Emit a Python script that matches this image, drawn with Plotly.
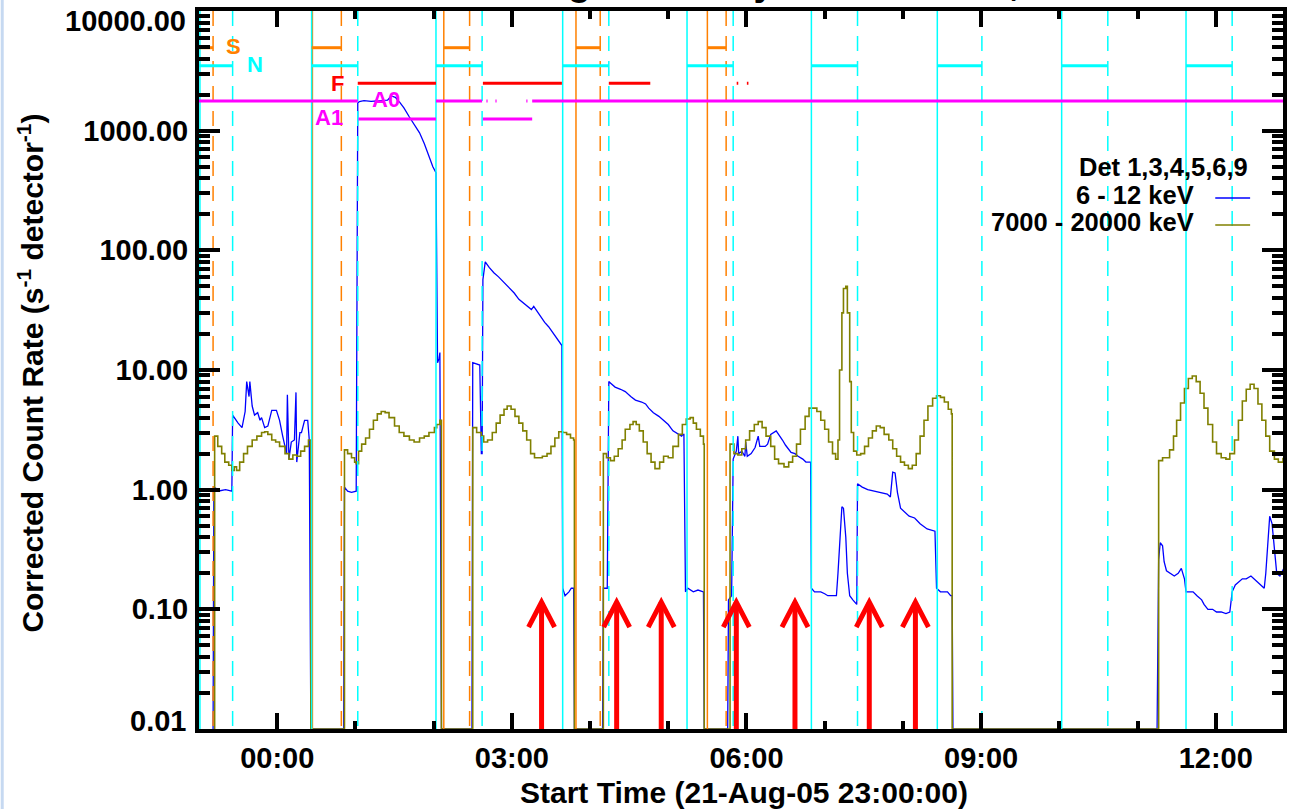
import plotly.graph_objects as go

# ------------------------------------------------------------------ data
# time axis: hours since 21-Aug-05 23:00:00
x_tick_vals = [1, 4, 7, 10, 13]
x_tick_text = ["00:00", "03:00", "06:00", "09:00", "12:00"]
y_tick_vals = [0.01, 0.1, 1, 10, 100, 1000, 10000]
y_tick_text = ["0.01", "0.10", "1.00", "10.00", "100.00", "1000.00", "10000.00"]

# 6 - 12 keV
blue_t = [0.18, 0.19, 0.27, 0.34, 0.42, 0.43, 0.50, 0.55, 0.59, 0.61, 0.64, 0.65, 0.68, 0.71, 0.75, 0.78,
          0.80, 0.84, 0.88, 0.93, 0.99, 1.03, 1.07, 1.12, 1.13, 1.15, 1.18, 1.22, 1.24, 1.25, 1.29, 1.31,
          1.35, 1.39, 1.41, 1.43,
          1.85, 1.86, 1.90, 1.95, 2.01, 2.03, 2.05, 2.11, 2.20, 2.31, 2.41, 2.46, 2.51, 2.56, 2.62, 2.69,
          2.75, 2.82, 2.88, 2.94, 2.99, 3.03, 3.05, 3.07, 3.08, 3.10,
          3.49, 3.50, 3.55, 3.59, 3.61, 3.62, 3.63, 3.66, 3.71, 3.77, 3.83, 3.90, 3.96, 4.03, 4.09, 4.15,
          4.22, 4.25, 4.28, 4.32, 4.37, 4.42, 4.47, 4.54, 4.59, 4.62, 4.64, 4.65, 4.68, 4.73, 4.76, 4.79, 4.80,
          5.16, 5.17, 5.22, 5.24, 5.26, 5.32, 5.39, 5.45, 5.52, 5.58, 5.66, 5.71, 5.75, 5.81, 5.88, 5.94,
          6.00, 6.06, 6.13, 6.17, 6.19, 6.20, 6.22, 6.25, 6.32, 6.38, 6.45, 6.46,
          6.76, 6.77, 6.81, 6.83, 6.87, 6.89, 6.90, 6.94, 6.98, 6.99, 7.01, 7.06, 7.11, 7.15, 7.17, 7.24,
          7.27, 7.31, 7.38, 7.43, 7.46, 7.50, 7.57, 7.62, 7.66, 7.72, 7.76, 7.82, 7.83, 7.87, 7.95, 8.00,
          8.04, 8.10, 8.15, 8.17, 8.20, 8.22, 8.24, 8.27, 8.29, 8.32, 8.36, 8.41, 8.42, 8.48, 8.55, 8.61,
          8.68, 8.74, 8.80, 8.84, 8.87, 8.90, 8.93, 8.97, 9.02, 9.08, 9.15, 9.22, 9.31, 9.38, 9.41, 9.43,
          9.48, 9.53, 9.57, 9.61, 9.63, 9.64,
          12.25, 12.27, 12.29, 12.32, 12.34, 12.37, 12.42, 12.47, 12.52, 12.56, 12.60, 12.62, 12.66, 12.71,
          12.76, 12.82, 12.85, 12.90, 12.96, 13.01, 13.07, 13.13, 13.18, 13.21, 13.25, 13.29, 13.34, 13.39,
          13.45, 13.53, 13.58, 13.62, 13.64, 13.67, 13.69, 13.72, 13.75, 13.78, 13.82, 13.87]
blue_v = [0.01, 1.05, 0.98, 1.0, 0.97, 4.2, 3.6, 3.3, 4.5, 8.0, 6.0, 8.0, 5.0, 4.2, 4.4, 3.8,
          4.0, 3.3, 3.4, 4.6, 4.6, 3.8, 2.8, 2.0, 6.2, 1.8, 2.5, 2.6, 6.5, 1.7, 3.0, 3.0,
          3.8, 3.8, 2.6, 0.01,
          0.01, 1.05, 0.97, 0.95, 0.97, 1700, 1750, 1780, 1760, 1770, 1800, 1950, 1900, 1750, 1550, 1300,
          1120, 960, 780, 600, 500, 445, 11.5, 12.5, 14, 0.01,
          0.01, 11.5, 11.3, 11.0, 2.0, 2.0, 57, 80, 72, 65, 60, 54, 49, 44, 39, 36,
          33, 32, 34, 31, 28, 25, 23, 20, 18, 17, 16, 0.15, 0.13, 0.14, 0.15, 0.15, 0.01,
          0.01, 0.15, 0.15, 8.0, 7.8, 7.2, 6.9, 6.6, 6.0, 5.6, 5.4, 5.2, 4.8, 4.4, 4.1, 3.8,
          3.5, 3.1, 2.9, 2.8, 2.9, 2.9, 0.14, 0.15, 0.14, 0.145, 0.14, 0.01,
          0.01, 0.12, 0.13, 1.8, 2.1, 2.8, 2.0, 2.1, 1.9, 2.5, 1.9, 2.0, 2.25, 2.8, 2.3, 2.3,
          2.4, 2.9, 3.1, 2.8, 2.6, 2.35, 2.05, 2.0, 1.9, 1.8, 1.7, 1.7, 0.15, 0.14, 0.14, 0.135,
          0.13, 0.13, 0.13, 0.2, 0.5, 0.72, 0.7, 0.4, 0.2, 0.13, 0.12, 0.11, 1.12, 1.05, 1.0, 0.98,
          0.95, 0.94, 0.92, 0.87, 1.4, 1.38, 0.95, 0.7, 0.65, 0.6, 0.58, 0.52, 0.47, 0.46, 0.45, 0.15,
          0.14, 0.14, 0.14, 0.13, 0.13, 0.01,
          0.01, 0.26, 0.36, 0.34, 0.25, 0.21, 0.20, 0.19, 0.20, 0.22, 0.18, 0.14, 0.14, 0.14,
          0.13, 0.12, 0.11, 0.10, 0.10, 0.095, 0.095, 0.092, 0.095, 0.14, 0.16, 0.17, 0.18, 0.18,
          0.19, 0.17, 0.16, 0.15, 0.2, 0.45, 0.6, 0.52, 0.3, 0.2, 0.19, 0.22]

# 7000 - 20000 keV
olive_t = [0.19, 0.20, 0.24, 0.29, 0.33, 0.38, 0.42, 0.45, 0.48, 0.52, 0.57, 0.62, 0.68, 0.74, 0.80, 0.84,
           0.88, 0.93, 0.98, 1.03, 1.10, 1.15, 1.20, 1.25, 1.30, 1.35, 1.40, 1.41, 1.43,
           1.85, 1.86, 1.90, 1.95, 1.99, 2.01, 2.04, 2.08, 2.13, 2.18, 2.23, 2.28, 2.33, 2.38, 2.43, 2.50,
           2.56, 2.62, 2.69, 2.75, 2.82, 2.88, 2.94, 3.01, 3.04, 3.08, 3.10,
           3.49, 3.50, 3.55, 3.61, 3.64, 3.69, 3.75, 3.80, 3.85, 3.90, 3.94, 3.99, 4.04, 4.09, 4.14, 4.19,
           4.24, 4.29, 4.34, 4.39, 4.45, 4.50, 4.55, 4.60, 4.65, 4.70, 4.75, 4.79, 4.80,
           5.16, 5.17, 5.21, 5.26, 5.31, 5.36, 5.41, 5.45, 5.51, 5.55, 5.59, 5.63, 5.68, 5.73, 5.78, 5.83,
           5.89, 5.94, 6.00, 6.06, 6.13, 6.18, 6.23, 6.28, 6.32, 6.36, 6.41, 6.45, 6.46,
           6.77, 6.79, 6.84, 6.89, 6.94, 6.99, 7.04, 7.10, 7.15, 7.20, 7.25, 7.31, 7.36, 7.41, 7.48, 7.54,
           7.59, 7.64, 7.69, 7.75, 7.80, 7.85, 7.90, 7.95, 8.00, 8.05, 8.10, 8.14, 8.17, 8.19, 8.22, 8.24,
           8.27, 8.29, 8.32, 8.34, 8.37, 8.41, 8.46, 8.51, 8.56, 8.61, 8.66, 8.71, 8.76, 8.82, 8.87, 8.92,
           8.97, 9.02, 9.07, 9.12, 9.17, 9.22, 9.27, 9.32, 9.38, 9.43, 9.48, 9.53, 9.58, 9.62, 9.63,
           12.25, 12.27, 12.32, 12.37, 12.41, 12.46, 12.50, 12.55, 12.60, 12.65, 12.70, 12.75, 12.80, 12.85,
           12.90, 12.96, 13.01, 13.07, 13.13, 13.18, 13.24, 13.29, 13.34, 13.39, 13.44, 13.49, 13.54, 13.59,
           13.64, 13.69, 13.75, 13.80, 13.86]
olive_v = [0.01, 2.8, 2.3, 2.0, 1.7, 1.6, 1.45, 1.55, 1.45, 1.7, 2.0, 2.3, 2.6, 2.8, 3.0, 3.05,
           2.9, 2.6, 2.5, 2.3, 2.0, 1.8, 1.95, 1.9, 2.1, 2.3, 2.6, 2.6, 0.01,
           0.01, 2.15, 2.0, 1.85, 1.7, 1.65, 2.1, 2.4, 2.7, 3.2, 3.8, 4.3, 4.5, 4.4, 4.0, 3.4,
           3.0, 2.8, 2.6, 2.5, 2.7, 2.8, 3.0, 3.3, 3.5, 3.8, 0.01,
           0.01, 3.3, 3.0, 2.8, 2.5, 2.6, 3.0, 3.6, 4.2, 4.7, 5.0, 4.7, 4.1, 3.6, 3.1, 2.6,
           2.0, 1.85, 1.85, 1.9, 2.0, 2.3, 2.7, 3.05, 3.0, 2.9, 2.7, 2.6, 0.01,
           0.01, 2.0, 1.85, 1.75, 1.9, 2.2, 2.6, 3.2, 3.5, 3.7, 3.5, 3.1, 2.5, 2.0, 1.7, 1.5,
           1.7, 1.9, 1.85, 2.3, 2.9, 3.5, 3.9, 4.0, 3.6, 3.2, 2.8, 2.4, 0.01,
           0.01, 2.4, 2.0, 1.95, 2.2, 2.6, 3.1, 3.5, 3.7, 3.3, 2.8, 2.3, 1.8, 1.65, 1.55, 1.7,
           1.9, 2.4, 3.2, 4.1, 4.8, 4.8, 4.5, 3.8, 3.2, 2.5, 2.0, 1.8, 2.6, 10, 30, 48,
           50, 30, 8, 3.0, 2.1, 1.95, 2.0, 2.3, 2.7, 3.1, 3.4, 3.3, 2.9, 2.6, 2.2, 1.9,
           1.7, 1.6, 1.5, 1.6, 2.0, 2.8, 3.8, 5.0, 5.8, 6.1, 5.9, 5.4, 4.7, 4.3, 0.01,
           0.01, 1.75, 1.85, 1.85, 2.15, 2.8, 3.8, 5.3, 7.0, 8.5, 8.9, 8.0, 6.4, 4.8,
           3.5, 2.5, 2.0, 1.85, 1.8, 2.0, 2.6, 3.8, 5.5, 6.9, 7.6, 7.0, 5.2, 3.8,
           2.8, 2.1, 1.8, 1.7, 1.85]

# orbit markers (hours)
night_start = [0.012, 1.44, 3.03, 4.65, 6.24, 7.83, 9.44, 11.03, 12.62]
night_end = [0.43, 2.03, 3.62, 5.24, 6.83, 8.42, 10.01, 11.62, 13.21]
saa_start = [1.45, 3.13, 4.82, 6.50]
saa_end = [0.18, 1.82, 3.46, 5.13, 6.74]

# flag bars: (start, end) in hours, and their plot level
saa_bars = [(0.0, 0.18), (1.44, 1.82), (3.13, 3.46), (4.82, 5.13), (6.50, 6.74)]
night_bars = [(0.0, 0.43), (1.44, 2.03), (3.03, 3.62), (4.65, 5.24), (6.24, 6.83), (7.83, 8.42),
              (9.44, 10.01), (11.03, 11.62), (12.62, 13.21)]
flare_bars = [(2.03, 3.03), (3.63, 4.64), (5.24, 5.77), (6.875, 6.895), (7.005, 7.025)]
a0_bars = [(0.0, 2.03), (3.03, 3.62), (3.675, 3.69), (3.79, 3.805), (4.185, 4.20), (4.26, 13.86)]
a1_bars = [(2.04, 3.03), (3.63, 4.26)]
saa_level, night_level, flare_level, a0_level, a1_level = 4935, 3490, 2490, 1770, 1252

# red arrows (hours) and tip level
arrow_times = [4.38, 5.34, 5.91, 6.87, 7.62, 8.57, 9.16]
arrow_tip = 0.115

X_RANGE = [0, 13.86]

# ------------------------------------------------------------------ figure
FONT = "Liberation Sans, Arial, sans-serif"
BLUE = "#0000ff"
OLIVE = "#808000"
CYAN = "#00ffff"
ORANGE = "#ff8000"
RED = "#ff0000"
MAGENTA = "#ff00ff"

fig = go.Figure()

fig.add_trace(go.Scatter(x=blue_t, y=blue_v, mode="lines",
                         line=dict(color=BLUE, width=1.3), hoverinfo="skip"))
fig.add_trace(go.Scatter(x=olive_t, y=olive_v, mode="lines", line_shape="hv",
                         line=dict(color=OLIVE, width=1.6), hoverinfo="skip"))


def vlines(times, color, dash):
    xs, ys = [], []
    for t in times:
        xs += [t, t, None]
        ys += [10000, 0.01, None]
    fig.add_trace(go.Scatter(x=xs, y=ys, mode="lines",
                             line=dict(color=color, width=1.5, dash=dash), hoverinfo="skip"))


vlines(saa_start, ORANGE, "solid")
vlines(saa_end, ORANGE, "15px,10px")
vlines(night_start, CYAN, "solid")
vlines(night_end, CYAN, "15px,10px")


def hbars(bars, level, color):
    xs, ys = [], []
    for a, b in bars:
        xs += [a, b, None]
        ys += [level, level, None]
    fig.add_trace(go.Scatter(x=xs, y=ys, mode="lines",
                             line=dict(color=color, width=3), hoverinfo="skip"))


hbars(saa_bars, saa_level, ORANGE)
hbars(night_bars, night_level, CYAN)
hbars(flare_bars, flare_level, RED)
hbars(a0_bars, a0_level, MAGENTA)
hbars(a1_bars, a1_level, MAGENTA)

shapes = []
for t in arrow_times:
    shapes.append(dict(type="line", xref="x", yref="y", x0=t, x1=t, y0=0.01, y1=arrow_tip,
                       line=dict(color=RED, width=5), layer="above"))
    shapes.append(dict(type="path", xref="x", yref="y", xsizemode="pixel", ysizemode="pixel",
                       xanchor=t, yanchor=arrow_tip, path="M -13,-25 L 0,0 L 13,-25",
                       line=dict(color=RED, width=5), layer="above"))

# plot geometry (px) for paper conversions
L, R, T, B, W, H = 199, 3, 11, 80, 1290, 809
PW, PH = W - L - R, H - T - B


def px(x):
    return (x - L) / PW


def py(y):
    return (H - B - y) / PH


# legend lines
shapes.append(dict(type="line", xref="paper", yref="paper", x0=px(1219), x1=px(1254),
                   y0=py(198), y1=py(198), line=dict(color=BLUE, width=1.5)))
shapes.append(dict(type="line", xref="paper", yref="paper", x0=px(1219), x1=px(1254),
                   y0=py(225), y1=py(225), line=dict(color=OLIVE, width=1.5)))
# window edge strip
shapes.append(dict(type="rect", xref="paper", yref="paper", x0=px(0), x1=px(3), y0=py(H), y1=py(0),
                   fillcolor="#c6d9f1", line=dict(width=0), layer="below"))

bold = dict(family=FONT, color="black", weight="bold")
annotations = [
    dict(text="RHESSI Observing Summary Count Rates, Corrected", xref="paper", yref="paper",
         x=px(732), y=1, xanchor="center", yanchor="bottom", yshift=6, showarrow=False,
         font=dict(bold, size=38)),
    dict(text="Start Time (21-Aug-05 23:00:00)", xref="paper", yref="paper", x=px(746), y=py(792),
         xanchor="center", yanchor="middle", showarrow=False, font=dict(bold, size=30)),
    dict(text="Corrected Count Rate (s<sup>-1</sup> detector<sup>-1</sup>)", xref="paper", yref="paper",
         x=px(30), y=py(373), xanchor="center", yanchor="middle", textangle=-90, showarrow=False,
         font=dict(bold, size=30)),
    dict(text="Det 1,3,4,5,6,9", xref="paper", yref="paper", x=px(1254), y=py(167),
         xanchor="right", yanchor="middle", showarrow=False, font=dict(bold, size=25.5)),
    dict(text="6 - 12 keV", xref="paper", yref="paper", x=px(1200), y=py(195),
         xanchor="right", yanchor="middle", showarrow=False, font=dict(bold, size=25.5)),
    dict(text="7000 - 20000 keV", xref="paper", yref="paper", x=px(1200), y=py(222),
         xanchor="right", yanchor="middle", showarrow=False, font=dict(bold, size=25.5)),
    # end labels of the y axis sit inside the axis span in the original
    dict(text=y_tick_text[-1], xref="paper", yref="paper", x=px(188), y=py(21),
         xanchor="right", yanchor="middle", showarrow=False, font=dict(bold, size=29)),
    dict(text=y_tick_text[0], xref="paper", yref="paper", x=px(188), y=py(721),
         xanchor="right", yanchor="middle", showarrow=False, font=dict(bold, size=29)),
]
flag_labels = [("S", px(234), py(46), ORANGE), ("N", px(255), py(64), CYAN), ("F", px(338), py(83), RED),
               ("A0", px(387), py(99), MAGENTA), ("A1", px(329), py(118), MAGENTA)]
for txt, x, y, c in flag_labels:
    annotations.append(dict(text=txt, xref="paper", yref="paper", x=x, y=y, xanchor="center",
                            yanchor="middle", showarrow=False, font=dict(family=FONT, size=22,
                                                                          color=c, weight="bold")))

y_axis_text = [""] + y_tick_text[1:-1] + [""]

fig.update_layout(
    width=W, height=H, margin=dict(l=L, r=R, t=T, b=B, pad=0),
    plot_bgcolor="white", paper_bgcolor="white", showlegend=False,
    shapes=shapes, annotations=annotations,
    xaxis=dict(range=X_RANGE, showgrid=False, zeroline=False, showline=True, linewidth=4,
               linecolor="black", mirror="allticks", ticks="inside", ticklen=16, tickwidth=4,
               tickcolor="black", tickvals=x_tick_vals, ticktext=x_tick_text,
               tickfont=dict(bold, size=29), ticklabelstandoff=0,
               minor=dict(ticks="inside", ticklen=8, tickwidth=4, tickcolor="black",
                          tick0=0, dtick=1, showgrid=False)),
    yaxis=dict(type="log", range=[-2, 4], showgrid=False, zeroline=False, showline=True, linewidth=4,
               linecolor="black", mirror="allticks", ticks="inside", ticklen=21, tickwidth=4,
               tickcolor="black", tickvals=y_tick_vals, ticktext=y_axis_text,
               tickfont=dict(bold, size=29), ticklabelstandoff=1,
               minor=dict(ticks="inside", ticklen=11, tickwidth=4, tickcolor="black",
                          dtick="D1", showgrid=False)),
)

fig.write_html("out.html")
